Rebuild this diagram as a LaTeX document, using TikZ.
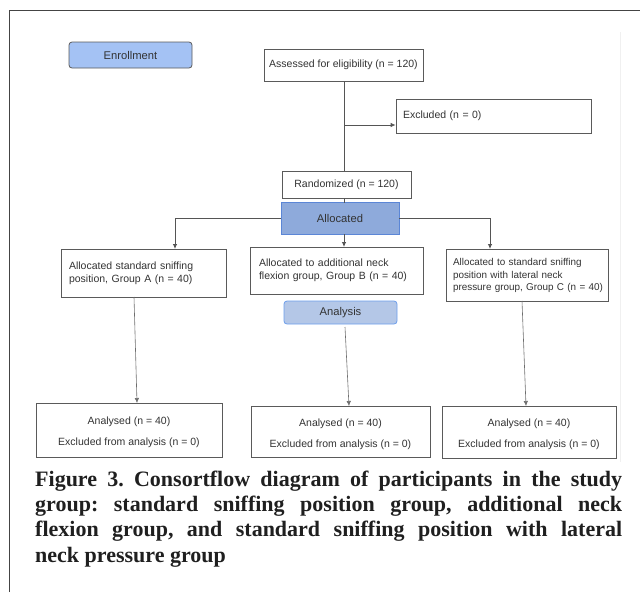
\documentclass[tikz,border=0pt]{standalone}
\usepackage{fontspec}
\setmainfont{Liberation Serif}
\newfontfamily\boxfont{Liberation Sans}
\usetikzlibrary{arrows.meta}
\definecolor{framegray}{HTML}{444444}
\definecolor{boxgray}{HTML}{5A5A5A}
\definecolor{txtgray}{HTML}{333333}
\definecolor{linegray}{HTML}{555555}
\definecolor{enrollfill}{HTML}{A4C2F4}
\definecolor{allocfill}{HTML}{8EAADB}
\definecolor{allocdraw}{HTML}{5B86D6}
\definecolor{anafill}{HTML}{B4C7E7}
\definecolor{anadraw}{HTML}{6D9EEB}
\newcommand{\toppush}{\rule{0pt}{13pt}}
\tikzset{
  box/.style={draw=boxgray, line width=0.8pt, fill=white, inner sep=0pt,
    font=\boxfont\fontsize{10.5}{13}\selectfont, text=txtgray},
  lbox/.style={box, align=left},
  cbox/.style={box, align=center, font=\boxfont\fontsize{10.5}{21}\selectfont},
  stagebox/.style={box, font=\boxfont\fontsize{11.2}{13}\selectfont},
  arr/.style={draw=linegray, line width=0.8pt, -{Latex[length=5pt,width=4.5pt]}},
  thinarr/.style={draw=linegray!85, line width=0.6pt, -{Latex[length=5pt,width=4.5pt]}},
  conn/.style={draw=linegray, line width=0.8pt},
}
\begin{document}
\begin{tikzpicture}[x=1pt,y=-1pt]
\useasboundingbox (0,0) rectangle (640,592);
% outer frame (top and left only visible)
\draw[framegray, line width=1pt] (9,592) -- (9,10) -- (640,10);
\draw[gray!12, line width=0.8pt] (620,32) -- (620,462);

% enrollment
\node[stagebox, draw=boxgray, fill=enrollfill, rounded corners=3pt,
  minimum width=123pt, minimum height=26pt] (enroll) at (130.5,55) {Enrollment};

\node[box, minimum width=159pt, minimum height=32pt] (assess) at (343.5,65)
  {Assessed for eligibility (n = 120)};
\node[lbox, text width=181pt, inner xsep=7pt, minimum height=34pt] (excl) at (493.5,116)
  {Excluded (n = 0)};
\node[box, minimum width=129pt, minimum height=27pt] (rand) at (346.5,184.5)
  {Randomized (n = 120)};
\node[stagebox, draw=allocdraw, fill=allocfill, minimum width=118pt, minimum height=32pt] (alloc)
  at (340,218) {Allocated};

% groups
\node[lbox, text width=149pt, inner xsep=8pt, minimum height=48pt] (gA) at (143.5,273)
  {\mbox{Allocated standard sniffing}\\\mbox{position, Group A (n = 40)}};
\node[lbox, text width=155pt, inner xsep=9pt, minimum height=47pt] (gB) at (336.5,270.5)
  {\mbox{Allocated to additional neck}\\\mbox{flexion group, Group B (n = 40)}};
\node[lbox, text width=148pt, inner xsep=7pt, minimum height=52pt, font=\boxfont\fontsize{9.9}{12.5}\selectfont] (gC) at (527,275.5)
  {\mbox{Allocated to standard sniffing}\\\mbox{position with lateral neck}\\\mbox{pressure group, Group C (n = 40)}};

\node[stagebox, draw=anadraw, fill=anafill, rounded corners=3pt,
  minimum width=113pt, minimum height=23pt] (ana) at (340.5,312.5) {Analysis};

% analysed
\node[cbox, minimum width=186pt, minimum height=54pt] (aA) at (129,430)
  {\toppush Analysed (n = 40)\\Excluded from analysis (n = 0)};
\node[cbox, minimum width=179pt, minimum height=51pt] (aB) at (340.5,431.5)
  {\toppush Analysed (n = 40)\\Excluded from analysis (n = 0)};
\node[cbox, minimum width=174pt, minimum height=52pt] (aC) at (529,432)
  {\toppush Analysed (n = 40)\\Excluded from analysis (n = 0)};

% connectors
\coordinate (jx) at (344,125);
\coordinate (ja) at (344,81);
\coordinate (jr) at (344,171);
\coordinate (jr2) at (344,198);
\coordinate (jal) at (344,203);
\draw[conn] (ja) -- (jr);
\draw[arr] (jx) -- (excl.west |- jx);
\draw[conn] (jr2) -- (jal);
\coordinate (tA) at (175,249);
\coordinate (tC) at (490,249);
\coordinate (sB) at (344,234);
\coordinate (tB) at (344,247);
\draw[arr] (alloc.west) -| (tA);
\draw[arr] (alloc.east) -| (tC);
\draw[arr] (sB) -- (tB);

\coordinate (bA1) at (134,297);
\coordinate (bA2) at (137,403);
\coordinate (bB1) at (345,327);
\coordinate (bB2) at (349,406);
\coordinate (bC1) at (522,301);
\coordinate (bC2) at (526,406);
\draw[thinarr] (bA1) -- (bA2);
\draw[thinarr] (bB1) -- (bB2);
\draw[thinarr] (bC1) -- (bC2);

% caption
\node[anchor=north west, inner sep=0pt, text width=587pt, align=justify,
  font=\bfseries\fontsize{22}{25.3}\selectfont\frenchspacing, text=black!88] (cap) at (35,470.5)
  {Figure 3. Consortflow diagram of participants in the study\linebreak group: standard sniffing position group, additional neck\linebreak flexion group, and standard sniffing position with lateral\linebreak neck pressure group};
\end{tikzpicture}
\end{document}
